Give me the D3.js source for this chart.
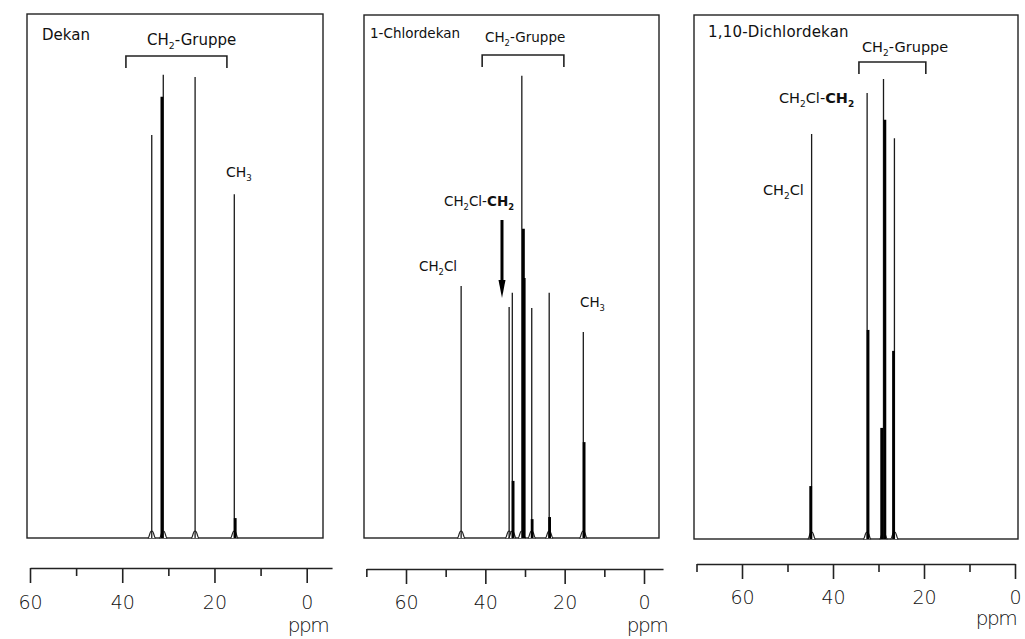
<!DOCTYPE html>
<html><head><meta charset="utf-8">
<script src="https://cdn.jsdelivr.net/npm/d3@7"></script>
<style>
html,body{margin:0;padding:0;background:#fff;}
svg{display:block;}
text{font-family:"DejaVu Sans",sans-serif;fill:#111;}
</style></head>
<body>
<svg id="chart" width="1025" height="639"></svg>
<script>
// ---- data: [ppm, relative intensity] ----
const dekanLines = [[33.6, 76.9], [31.1, 88.4], [24.2, 88.0], [15.7, 65.6]];
const dekanOverlaps = [[31.4, 84.2], [15.5, 3.8]];
const chlorLines = [[46.1, 48.1], [34.0, 44.1], [33.2, 46.8], [30.8, 88.2], [28.3, 43.9], [23.9, 46.8], [15.3, 39.3]];
const chlorOverlaps = [[33.0, 10.9], [30.4, 59.0], [30.2, 49.6], [28.2, 3.6], [23.8, 4.0], [15.1, 18.3]];
const dichlorLines = [[44.7, 77.3], [32.5, 85.1], [28.9, 87.8], [26.5, 76.5]];
const dichlorOverlaps = [[44.9, 10.1], [32.3, 39.9], [28.6, 80.0], [29.3, 21.2], [26.7, 35.9]];
const majorTicks = [60, 40, 20, 0];
const minorTicksDekan = [50, 30, 10];
const minorTicksChlor = [70, 50, 30, 10];
const titles = ["Dekan", "1-Chlordekan", "1,10-Dichlordekan"];
const groupRanges = [[39.2, 17.3], [40.8, 20.2], [34.3, 19.6]];
const arrowPpm = 35.8;

const svg = d3.select("#chart");

const panels = [
  {lines: dekanLines, overlaps: dekanOverlaps, minor: minorTicksDekan, ext: [60, -5.5],
   fx0: 27, fx1: 323, fy0: 14, fy1: 538, px60: 30, px0: 306.7, axisY: 568, labY: 609, ppmX: 308, ppmY: 632,
   title: titles[0], titleX: 42, titleY: 40, titleFs: 15, group: groupRanges[0], gTextX: 147, gTextY: 45, gFs: 15, brY: 56},
  {lines: chlorLines, overlaps: chlorOverlaps, minor: minorTicksChlor, ext: [70, -4.8],
   fx0: 364, fx1: 659, fy0: 15, fy1: 538, px60: 406, px0: 644, axisY: 569, labY: 609, ppmX: 647, ppmY: 632,
   title: titles[1], titleX: 370, titleY: 38, titleFs: 13.5, group: groupRanges[1], gTextX: 485, gTextY: 42, gFs: 13.5, brY: 55},
  {lines: dichlorLines, overlaps: dichlorOverlaps, minor: minorTicksChlor, ext: [70, 0],
   fx0: 694, fx1: 1018, fy0: 15, fy1: 539, px60: 742, px0: 1015, axisY: 564, labY: 604, ppmX: 996, ppmY: 625,
   title: titles[2], titleX: 708, titleY: 37, titleFs: 15, group: groupRanges[2], gTextX: 862, gTextY: 52, gFs: 14.5, brY: 62}
];

function subText(g, x, y, parts, fs) {
  const t = g.append("text").attr("x", x).attr("y", y).style("font-size", fs + "px");
  let shifted = false;
  parts.forEach(p => {
    const ts = t.append("tspan").text(p[0]);
    if (p[2]) ts.style("font-weight", "bold");
    if (p[1]) { ts.style("font-size", (fs * 0.62) + "px").attr("dy", 4); shifted = true; }
    else if (shifted) { ts.attr("dy", -4); shifted = false; }
  });
  return t;
}

panels.forEach((p, i) => {
  const g = svg.append("g");
  const x = d3.scaleLinear().domain([60, 0]).range([p.px60, p.px0]);
  const y = d3.scaleLinear().domain([0, 100]).range([p.fy1, p.fy1 - 524]);

  g.append("rect").attr("x", p.fx0).attr("y", p.fy0)
    .attr("width", p.fx1 - p.fx0).attr("height", p.fy1 - p.fy0)
    .attr("fill", "none").attr("stroke", "#222").attr("stroke-width", 1.4);

  const b = y(0);
  p.lines.forEach(d => {
    const cx = x(d[0]);
    const path = d3.path();
    path.moveTo(cx - 4, b);
    path.bezierCurveTo(cx - 2, b, cx - 2.5, b - 7, cx, b - 7);
    path.bezierCurveTo(cx + 2.5, b - 7, cx + 2, b, cx + 4, b);
    g.append("path").attr("d", path.toString()).attr("fill", "#fff")
      .attr("stroke", "#222").attr("stroke-width", 1.2);
  });

  g.selectAll("line.spike").data(p.lines).enter().append("line")
    .attr("class", "spike")
    .attr("x1", d => x(d[0])).attr("x2", d => x(d[0]))
    .attr("y1", y(0)).attr("y2", d => y(d[1]))
    .attr("stroke", "#1a1a1a").attr("stroke-width", 1.3);

  g.selectAll("line.ov").data(p.overlaps).enter().append("line")
    .attr("class", "ov")
    .attr("x1", d => x(d[0])).attr("x2", d => x(d[0]))
    .attr("y1", y(0)).attr("y2", d => y(d[1]))
    .attr("stroke", "#000").attr("stroke-width", 2.8);

  const axScale = d3.scaleLinear().domain(p.ext).range([x(p.ext[0]), x(p.ext[1])]);
  const axMajor = d3.axisBottom(axScale).tickValues(majorTicks).tickSize(15).tickSizeOuter(0)
    .tickFormat(d3.format("d"));
  const ag = g.append("g").attr("transform", `translate(0,${p.axisY})`).call(axMajor);
  ag.select(".domain").attr("stroke", "#222").attr("stroke-width", 1.6);
  ag.selectAll(".tick line").attr("stroke", "#222").attr("stroke-width", 1.6);
  ag.selectAll(".tick text").attr("y", 0).attr("dy", p.labY - p.axisY)
    .style("font-size", "19px").style("font-family", "'DejaVu Sans',sans-serif")
    .style("font-weight", "200").attr("fill", "#000");
  const axMinor = d3.axisBottom(axScale).tickValues(p.minor).tickSize(8).tickSizeOuter(0).tickFormat("");
  const mg = g.append("g").attr("transform", `translate(0,${p.axisY})`).call(axMinor);
  mg.select(".domain").remove();
  mg.selectAll(".tick line").attr("stroke", "#222").attr("stroke-width", 1.6);

  g.append("text").attr("x", p.ppmX).attr("y", p.ppmY).attr("text-anchor", "middle")
    .style("font-size", "20px").style("font-weight", "200").style("letter-spacing", "-1.5px")
    .attr("fill", "#000").text("ppm");

  g.append("text").attr("x", p.titleX).attr("y", p.titleY).style("font-size", p.titleFs + "px")
    .style("letter-spacing", i === 2 ? "0.2px" : "0px").text(p.title);

  const bx0 = x(p.group[0]), bx1 = x(p.group[1]);
  g.append("path")
    .attr("d", `M${bx0},${p.brY + 12}V${p.brY}H${bx1}V${p.brY + 12}`)
    .attr("fill", "none").attr("stroke", "#222").attr("stroke-width", 1.6);
  subText(g, p.gTextX, p.gTextY, [["CH"], ["2", true], ["-Gruppe"]], p.gFs);

  if (i === 0) {
    subText(g, 226, 177, [["CH"], ["3", true]], 14);
  }
  if (i === 1) {
    subText(g, 444, 206, [["CH"], ["2", true], ["Cl-"], ["CH", false, true], ["2", true, true]], 13.5);
    subText(g, 419, 271, [["CH"], ["2", true], ["Cl"]], 13.5);
    subText(g, 580, 307, [["CH"], ["3", true]], 13.5);
    const ax = x(arrowPpm);
    g.append("line").attr("x1", ax).attr("x2", ax).attr("y1", 220).attr("y2", 284)
      .attr("stroke", "#000").attr("stroke-width", 3);
    g.append("path").attr("d", `M${ax - 3.5},${280}L${ax + 3.5},${280}L${ax},${298}Z`).attr("fill", "#000");
  }
  if (i === 2) {
    subText(g, 779, 103, [["CH"], ["2", true], ["Cl-"], ["CH", false, true], ["2", true, true]], 14.5);
    subText(g, 763, 195, [["CH"], ["2", true], ["Cl"]], 14.5);
  }
});
</script>
</body></html>
